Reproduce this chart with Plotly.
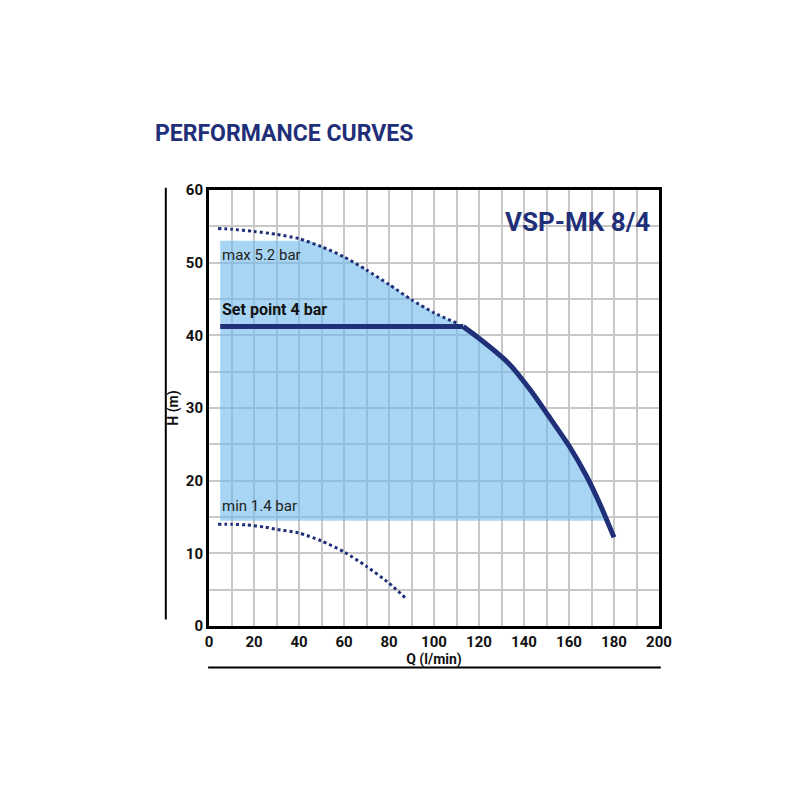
import plotly.graph_objects as go

# data
max_q = [4, 10, 20, 30, 40, 50, 60, 70, 80, 90, 100, 110.7]
max_h = [54.7, 54.6, 54.3, 53.9, 53.3, 52.2, 50.8, 49.0, 47.0, 44.9, 43.1, 41.6]
min_q = [4, 10, 17, 25, 30, 40, 50, 60, 70, 80, 87.5]
min_h = [14.0, 14.0, 13.9, 13.6, 13.3, 12.8, 11.7, 10.2, 8.2, 5.9, 3.8]
set_q = [5, 113]
set_h = [41.2, 41.2]
pump_q = [113, 120, 133, 143, 150.7, 160, 168, 174, 180]
pump_h = [41.2, 39.6, 36.2, 32.4, 29.0, 24.8, 20.5, 16.6, 12.2]
area_q = [5, 5, 45, 50, 60, 70, 80, 90, 100, 110.7, 113, 120, 133, 143, 150.7, 160, 168, 174, 176.8, 5]
area_h = [14.5, 53.0, 53.0, 52.2, 50.8, 49.0, 47.0, 44.9, 43.1, 41.6, 41.2, 39.6, 36.2, 32.4, 29.0, 24.8, 20.5, 16.6, 14.5, 14.5]

navy = "#1f2f78"
font = "Liberation Sans Narrow, Roboto, sans-serif"

fig = go.Figure()
fig.add_trace(go.Scatter(x=area_q, y=area_h, fill="toself", mode="none",
                         fillcolor="rgba(110,185,235,0.6)", hoverinfo="skip"))
fig.add_trace(go.Scatter(x=max_q, y=max_h, mode="lines", line=dict(color=navy, width=3, dash="dot", shape="spline", smoothing=0.6)))
fig.add_trace(go.Scatter(x=min_q, y=min_h, mode="lines", line=dict(color=navy, width=3, dash="dot", shape="spline", smoothing=0.6)))
fig.add_trace(go.Scatter(x=set_q, y=set_h, mode="lines", line=dict(color=navy, width=5)))
fig.add_trace(go.Scatter(x=pump_q, y=pump_h, mode="lines", line=dict(color=navy, width=5, shape="spline", smoothing=0.6)))

fig.add_annotation(x=5, y=51, text="max 5.2 bar", showarrow=False, xanchor="left",
                   font=dict(family=font, size=15, color="#222"))
fig.add_annotation(x=5, y=43.5, text="<b>Set point 4 bar</b>", showarrow=False, xanchor="left",
                   font=dict(family=font, size=16, color="#111"))
fig.add_annotation(x=5, y=16.5, text="min 1.4 bar", showarrow=False, xanchor="left",
                   font=dict(family=font, size=15, color="#222"))
fig.add_annotation(x=197, y=58, text="<b>VSP-MK 8/4</b>", showarrow=False, xanchor="right", yanchor="top",
                   font=dict(family=font, size=26, color=navy))
fig.add_annotation(xref="paper", yref="paper", x=-0.125, y=1.095, xanchor="left", yanchor="bottom",
                   text="<b>PERFORMANCE CURVES</b>", showarrow=False,
                   font=dict(family=font, size=23, color=navy))

# detached axis lines
fig.add_shape(type="line", xref="paper", yref="paper", x0=-0.096, x1=-0.096, y0=0.015, y1=1.005,
              line=dict(color="black", width=2))
fig.add_shape(type="line", xref="paper", yref="paper", x0=-0.002, x1=1.004, y0=-0.095, y1=-0.095,
              line=dict(color="black", width=2))

fig.update_xaxes(range=[0, 200], tickvals=list(range(0, 201, 20)),
                 ticktext=[f"<b>{v}</b>" for v in range(0, 201, 20)],
                 showgrid=True, gridcolor="#c8c8c8", gridwidth=1.5,
                 minor=dict(dtick=10, showgrid=True, gridcolor="#c8c8c8", gridwidth=1.5),
                 showline=True, linecolor="black", linewidth=3, mirror=True, zeroline=False,
                 title=dict(text="<b>Q (l/min)</b>", font=dict(family=font, size=14, color="#111"), standoff=0),
                 tickfont=dict(family=font, size=15, color="#111"), ticks="")
fig.update_yaxes(range=[0, 60], tickvals=list(range(0, 61, 10)),
                 ticktext=[f"<b>{v}</b>" for v in range(0, 61, 10)],
                 showgrid=True, gridcolor="#c8c8c8", gridwidth=1.5,
                 minor=dict(dtick=5, showgrid=True, gridcolor="#c8c8c8", gridwidth=1.5),
                 showline=True, linecolor="black", linewidth=3, mirror=True, zeroline=False,
                 title=dict(text="<b>H (m)</b>", font=dict(family=font, size=14, color="#111"), standoff=4),
                 tickfont=dict(family=font, size=15, color="#111"), ticks="")
fig.update_layout(width=800, height=800, showlegend=False, plot_bgcolor="white", paper_bgcolor="white",
                  margin=dict(l=201, r=149, t=182, b=182, autoexpand=False))
fig.write_html("out.html")
